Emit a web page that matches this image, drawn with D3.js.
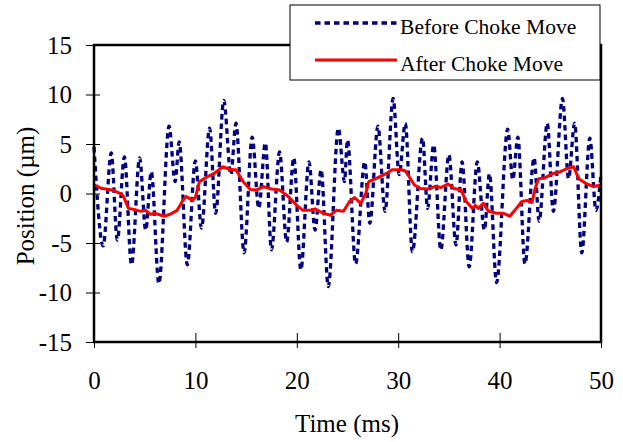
<!DOCTYPE html>
<html lang="en">

<head>
  <meta charset="UTF-8">
  <title>Position vs Time</title>
  <script src="https://d3js.org/d3.v7.min.js"></script>
  <style>
    body {
      margin: 0;
      background: #fff;
    }

    text {
      font-family: "Liberation Serif", "Times New Roman", serif;
      fill: #000;
    }

    .before {
      fill: none;
      stroke: #000080;
      stroke-width: 3.3;
      stroke-dasharray: 5.5, 4;
    }

    .after {
      fill: none;
      stroke: #ff0000;
      stroke-width: 3;
      stroke-linejoin: round;
    }
  </style>
</head>

<body>
  <svg width="623" height="442"></svg>

  <script>
    // before choke move (ms, µm)
    const timeBefore = [0, 0.9, 1.7, 2.3, 3.0, 3.7, 4.5, 5.1, 5.65, 6.4, 7.4, 8.0, 8.4, 9.2, 10.0,
      10.6, 11.4, 12.0, 12.8, 13.5, 14.0, 14.8, 15.6, 16.25, 16.9, 17.5, 18.3, 19.0, 19.7, 20.4,
      21.2, 21.8, 22.4, 23.1, 24.1, 24.7, 25.0, 25.8, 26.7, 27.2, 28.0, 28.7, 29.5, 30.1, 30.7,
      31.4, 32.4, 32.9, 33.5, 34.2, 35.0, 35.7, 36.3, 37.0, 37.8, 38.5, 39.0, 39.7, 40.8, 41.3,
      41.8, 42.5, 43.4, 43.9, 44.7, 45.3, 46.2, 46.8, 47.4, 48.1, 48.9, 49.5, 50];
    const posBefore = [4.7, -5.3, 4.1, -4.7, 3.7, -7.2, 3.6, -3.7, 2.2, -9.1, 6.8, 1.2, 5.2, -7.2, 3.3,
      -3.5, 6.6, -2.0, 9.4, 1.9, 7.1, -6.0, 5.7, -1.5, 5.1, -5.7, 4.2, -4.9, 3.6, -7.7,
      3.2, -3.7, 2.4, -9.4, 6.6, 1.2, 5.4, -7.1, 3.2, -3.0, 6.8, -1.8, 9.6, 1.9, 7.1,
      -5.9, 5.6, -1.5, 4.9, -5.7, 3.9, -5.2, 3.2, -7.4, 3.2, -3.7, 2.0, -9.0, 6.5, 1.4,
      5.7, -7.1, 3.6, -2.8, 7.1, -1.8, 9.6, 1.5, 7.1, -6.0, 5.6, -1.7, 2.0];

    // after choke move
    const timeAfter = [0, 0.8, 1.8, 2.7, 2.9, 3.4, 4.1, 4.6, 5.1, 5.55, 6.05, 6.9, 7.5, 8.2, 8.7,
      9.1, 9.7, 10.0, 10.4, 11.0, 11.8, 12.2, 12.7, 13.5, 14.0, 14.7, 15.4, 16.0, 16.7, 17.5,
      18.3, 19.1, 20.0, 20.6, 21.3, 21.8, 22.4, 23.3, 23.9, 24.6, 25.2, 25.7, 26.3, 26.8, 27.1,
      28.0, 28.8, 29.4, 30.2, 30.7, 31.6, 32.2, 32.9, 33.6, 34.2, 34.9, 35.5, 36.2, 36.7, 37.3,
      37.6, 37.9, 38.4, 38.9, 39.7, 40.4, 41.0, 41.5, 42.2, 42.7, 43.2, 43.5, 43.85, 44.5, 45.2,
      46.0, 46.6, 47.3, 47.8, 48.6, 49.3, 50];
    const posAfter = [0.86, 0.5, 0.35, -0.05, -0.3, -1.5, -1.65, -1.8, -1.7, -2.1, -2.0, -2.3, -2.1, -1.7, -0.8,
      -0.3, -0.7, -0.4, 1.2, 1.6, 2.0, 2.3, 2.7, 2.4, 2.4, 1.2, 0.4, 0.35, 0.7, 0.45,
      0.35, -0.25, -1.2, -1.7, -1.7, -1.55, -1.9, -2.2, -1.7, -1.8, -0.8, -0.4, -1.0, 0, 1.2,
      1.6, 2.0, 2.4, 2.4, 2.3, 0.86, 0.5, 0.45, 0.7, 0.6, 0.96, 0.5, 0.35, -0.8, -1.5,
      -1.2, -1.5, -1.0, -1.8, -2.0, -2.0, -2.3, -1.7, -0.8, -0.7, -0.9, 0.5, 1.5, 1.6, 2.0,
      2.2, 2.5, 2.7, 1.5, 0.96, 0.7, 0.86];

    const xTicks = [0, 10, 20, 30, 40, 50];
    const yTicks = [-15, -10, -5, 0, 5, 10, 15];
    const seriesNames = ['Before Choke Move', 'After Choke Move'];

    const margin = { top: 45, right: 22, bottom: 100, left: 94 };

    const svg = d3.select('svg');
    const chart = svg.append('g')
      .attr('transform', `translate(${margin.left},${margin.top})`);

    const x = d3.scaleLinear().domain([0, 50]).range([0, 507]);
    const y = d3.scaleLinear().domain([-15, 15]).range([297, 0]);

    const before = timeBefore.map((t, i) => ({ t: t, v: posBefore[i] }));
    const after = timeAfter.map((t, i) => ({ t: t, v: posAfter[i] }));

    // plain hyphen for negatives, like the original
    const fmt = d => String(d);

    //ticks, crossing the axes
    chart.append('g')
      .call(d3.axisLeft(y).tickValues(yTicks).tickFormat(fmt).tickSizeInner(8).tickSizeOuter(0).tickPadding(14))
      .call(g => g.select('.domain').remove())
      .call(g => g.selectAll('line').attr('x2', -8).attr('x1', 6).attr('stroke', '#000'))
      .call(g => g.selectAll('text')
        .attr('font-family', '"Liberation Serif", serif')
        .attr('font-size', 25).attr('fill', '#000'));

    chart.append('g')
      .attr('transform', `translate(0,${y(-15)})`)
      .call(d3.axisBottom(x).tickValues(xTicks).tickFormat(fmt).tickSizeInner(7).tickSizeOuter(0).tickPadding(22))
      .call(g => g.select('.domain').remove())
      .call(g => g.selectAll('line').attr('y1', -9).attr('y2', 6).attr('stroke', '#000'))
      .call(g => g.selectAll('text')
        .attr('font-family', '"Liberation Serif", serif')
        .attr('font-size', 25).attr('fill', '#000'));

    //lines
    const lineBefore = d3.line()
      .x(d => x(d.t))
      .y(d => y(d.v))
      .curve(d3.curveMonotoneX);

    const lineAfter = d3.line()
      .x(d => x(d.t))
      .y(d => y(d.v));

    chart.append('path')
      .datum(before)
      .attr('class', 'before')
      .attr('d', lineBefore);

    chart.append('path')
      .datum(after)
      .attr('class', 'after')
      .attr('d', lineAfter);

    //frame
    chart.append('rect')
      .attr('x', x(0))
      .attr('y', y(15))
      .attr('width', x(50) - x(0))
      .attr('height', y(-15) - y(15))
      .attr('fill', 'none')
      .attr('stroke', '#000')
      .attr('stroke-width', 2.5);

    //legend
    const legend = svg.append('g').attr('transform', 'translate(290,5)');
    legend.append('rect')
      .attr('width', 310)
      .attr('height', 75)
      .attr('fill', '#fff')
      .attr('stroke', '#000')
      .attr('stroke-width', 1);

    legend.append('line')
      .attr('class', 'before')
      .attr('x1', 25).attr('x2', 107)
      .attr('y1', 18).attr('y2', 18);
    legend.append('line')
      .attr('class', 'after')
      .attr('x1', 25).attr('x2', 107)
      .attr('y1', 55).attr('y2', 55);

    legend.selectAll('.label')
      .data(seriesNames)
      .enter().append('text')
      .attr('class', 'label')
      .attr('x', 110)
      .attr('y', (d, i) => 29 + i * 37)
      .attr('font-size', 21.6)
      .text(d => d);

    //axis titles
    svg.append('text')
      .attr('text-anchor', 'middle')
      .attr('x', 347)
      .attr('y', 432)
      .attr('font-size', 25)
      .text('Time (ms)');

    svg.append('text')
      .attr('text-anchor', 'middle')
      .attr('transform', 'rotate(-90)')
      .attr('x', -196)
      .attr('y', 34)
      .attr('font-size', 25)
      .text('Position (µm)');
  </script>
</body>

</html>
